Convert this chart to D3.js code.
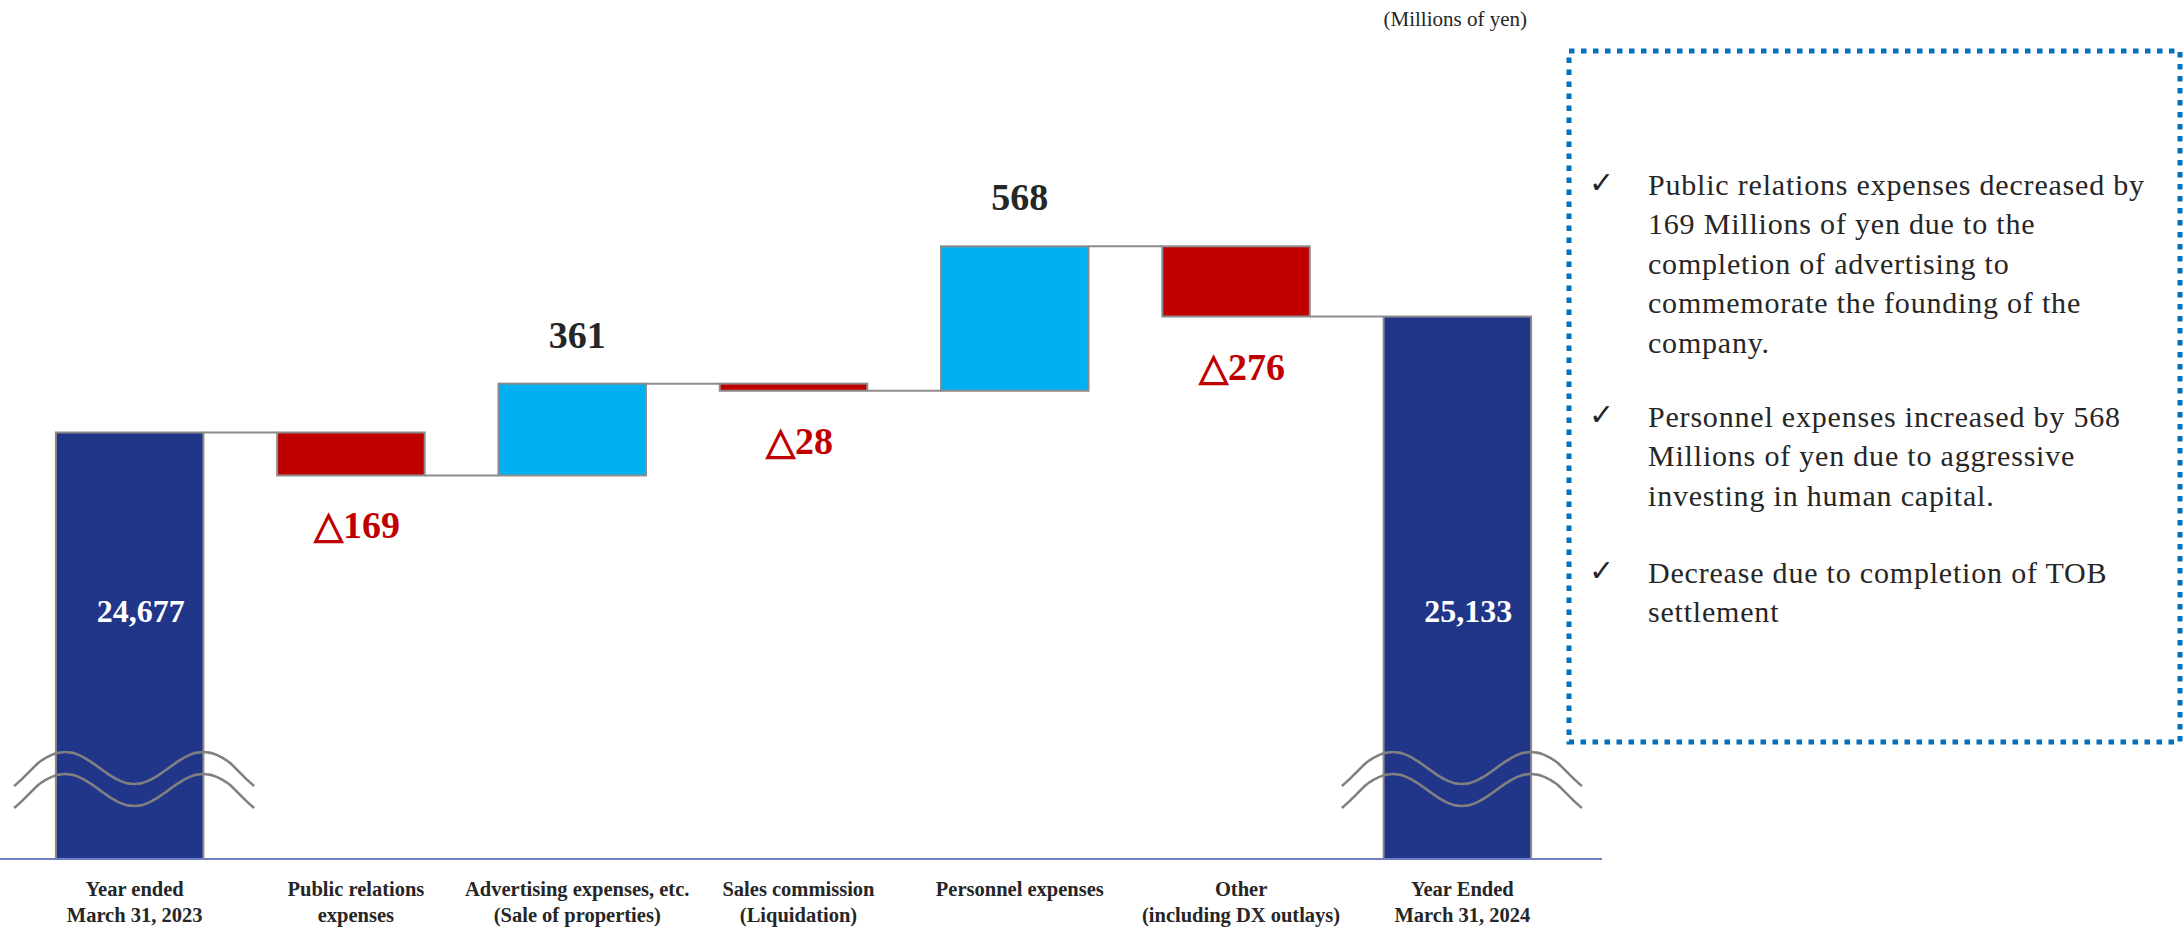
<!DOCTYPE html>
<html>
<head>
<meta charset="utf-8">
<script src="https://cdn.jsdelivr.net/npm/d3@7/dist/d3.min.js"></script>
<style>
  html, body { margin: 0; padding: 0; background: #ffffff; }
  svg { display: block; }
</style>
</head>
<body>
<svg id="chart" width="2183" height="927"></svg>
<script>
// ---- Data (Millions of yen) ----
const categories = [
  ["Year ended", "March 31, 2023"],
  ["Public relations", "expenses"],
  ["Advertising expenses, etc.", "(Sale of properties)"],
  ["Sales commission", "(Liquidation)"],
  ["Personnel expenses"],
  ["Other", "(including DX outlays)"],
  ["Year Ended", "March 31, 2024"]
];
const kinds  = ["total", "delta", "delta", "delta", "delta", "delta", "total"];
const values = [24677, -169, 361, -28, 568, -276, 25133];

const unitNote = "(Millions of yen)";
const notes = [
  ["Public relations expenses decreased by",
   "169 Millions of yen due to the",
   "completion of advertising to",
   "commemorate the founding of the",
   "company."],
  ["Personnel expenses increased by 568",
   "Millions of yen due to aggressive",
   "investing in human capital."],
  ["Decrease due to completion of TOB",
   "settlement"]
];

// ---- Layout ----
const W = 2183, H = 927;
const baseY = 859;
const serif = "'Liberation Serif', 'Times New Roman', serif";
const colors = { total: "#213689", up: "#00B0F0", down: "#C00000", edge: "#8c8c8c" };

const svg = d3.select("#chart");
svg.append("rect").attr("width", W).attr("height", H).attr("fill", "#fff");

// Broken value axis: bars start at 23,000
const y = d3.scaleLinear().domain([23000, 26000]).range([baseY, 96]);
const x = d3.scaleBand()
  .domain(d3.range(categories.length))
  .range([19, 1568])
  .paddingInner(1 / 3)
  .paddingOuter(1 / 6);
const bw = x.bandwidth();

// Running totals -> bar extents
let running = 0;
const bars = values.map((v, i) => {
  let lo, hi, start, end;
  if (kinds[i] === "total") {
    start = 23000; end = v; running = v;
    lo = 23000; hi = v;
  } else {
    start = running; end = running + v; running = end;
    lo = Math.min(start, end); hi = Math.max(start, end);
  }
  return { i, v, kind: kinds[i], lo, hi, start, end };
});

// Connectors between consecutive bars
const g = svg.append("g");
bars.slice(0, -1).forEach(b => {
  const level = b.kind === "total" ? b.v : b.end;
  g.append("line")
    .attr("x1", x(b.i) + bw).attr("x2", x(b.i + 1))
    .attr("y1", y(level)).attr("y2", y(level))
    .attr("stroke", colors.edge).attr("stroke-width", 2);
});

// Bars
g.selectAll("rect.bar").data(bars).join("rect")
  .attr("class", "bar")
  .attr("x", d => x(d.i))
  .attr("width", bw)
  .attr("y", d => y(d.hi))
  .attr("height", d => y(d.lo) - y(d.hi))
  .attr("fill", d => d.kind === "total" ? colors.total : (d.v >= 0 ? colors.up : colors.down))
  .attr("stroke", colors.edge)
  .attr("stroke-width", 2);

// Baseline
g.append("line")
  .attr("x1", 0).attr("x2", 1602)
  .attr("y1", baseY).attr("y2", baseY)
  .attr("stroke", "#6f7fc4").attr("stroke-width", 2);

// Axis break marks on the total bars
const wave = d3.line().curve(d3.curveBasis);
bars.filter(d => d.kind === "total").forEach(d => {
  const cx = x(d.i) + bw / 2 + 4.5;
  [baseY - 91, baseY - 69].forEach(mid => {
    const pts = d3.range(-120, 120.5, 3).map(t => {
      const edge = Math.max(0, Math.abs(t) - 95) * 0.28;
      return [cx + t, mid + 16 * Math.cos(Math.PI * t / 69) + edge];
    });
    g.append("path")
      .attr("d", wave(pts))
      .attr("fill", "none")
      .attr("stroke", "#808080")
      .attr("stroke-width", 2.6);
  });
});

// Value labels
const fmt = d3.format(",");
bars.forEach(d => {
  const cx = x(d.i) + bw / 2;
  if (d.kind === "total") {
    g.append("text")
      .attr("x", cx + 11).attr("y", 622)
      .attr("text-anchor", "middle")
      .attr("font-family", serif).attr("font-weight", "bold")
      .attr("font-size", 32).attr("fill", "#ffffff")
      .text(fmt(d.v));
  } else if (d.v >= 0) {
    g.append("text")
      .attr("x", cx + 5).attr("y", y(d.hi) - 36)
      .attr("text-anchor", "middle")
      .attr("font-family", serif).attr("font-weight", "bold")
      .attr("font-size", 38).attr("fill", "#262626")
      .text(fmt(d.v));
  } else {
    g.append("text")
      .attr("x", cx + 6).attr("y", y(d.lo) + 63)
      .attr("text-anchor", "middle")
      .attr("font-family", serif).attr("font-weight", "bold")
      .attr("font-size", 38).attr("fill", "#C00000")
      .text("\u25B3" + fmt(Math.abs(d.v)));
  }
});

// Category labels
categories.forEach((lines, i) => {
  const t = g.append("text")
    .attr("text-anchor", "middle")
    .attr("font-family", serif).attr("font-weight", "bold")
    .attr("font-size", 20.5).attr("fill", "#262626");
  lines.forEach((s, k) => {
    t.append("tspan")
      .attr("x", x(i) + bw / 2 + 5)
      .attr("y", 896 + k * 26)
      .text(s);
  });
});

// Unit note
svg.append("text")
  .attr("x", 1527).attr("y", 26)
  .attr("text-anchor", "end")
  .attr("font-family", serif).attr("font-size", 21).attr("fill", "#262626")
  .text(unitNote);

// Comment box
svg.append("rect")
  .attr("x", 1569).attr("y", 51)
  .attr("width", 2180 - 1569).attr("height", 742 - 51)
  .attr("fill", "none")
  .attr("stroke", "#0070C0")
  .attr("stroke-width", 5)
  .attr("stroke-dasharray", "5.5 6.5");

const paraTops = [195, 427, 583];
notes.forEach((para, p) => {
  svg.append("text")
    .attr("x", 1589).attr("y", paraTops[p] - 2)
    .attr("font-family", "'DejaVu Sans', sans-serif")
    .attr("font-size", 30).attr("fill", "#262626")
    .text("\u2713");
  const t = svg.append("text")
    .attr("font-family", serif).attr("font-size", 30)
    .attr("letter-spacing", 0.8).attr("fill", "#262626");
  para.forEach((s, k) => {
    t.append("tspan")
      .attr("x", 1648)
      .attr("y", paraTops[p] + k * 39.4)
      .text(s);
  });
});
</script>
</body>
</html>
